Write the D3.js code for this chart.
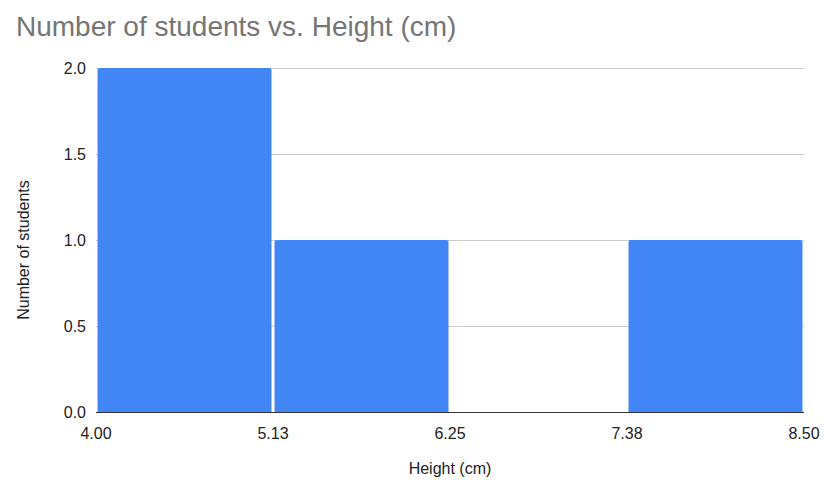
<!DOCTYPE html>
<html><head><meta charset="utf-8">
<script src="https://cdn.jsdelivr.net/npm/d3@7"></script>
<style>body{margin:0;background:#fff}svg{display:block;font-family:Arial,"Liberation Sans",sans-serif}</style>
</head><body>
<svg id="c" width="827" height="484"></svg>
<script>
const binStarts = [4.00, 5.125, 6.25, 7.375];
const binEnds = [5.125, 6.25, 7.375, 8.50];
const counts = [2, 1, 0, 1];
const xTicks = [4.00, 5.125, 6.25, 7.375, 8.50];
const xTickLabels = ["4.00", "5.13", "6.25", "7.38", "8.50"];
const yTicks = [0, 0.5, 1.0, 1.5, 2.0];

const svg = d3.select("#c");
const m = {l: 96, r: 804, t: 68, b: 412};
const x = d3.scaleLinear().domain([4.0, 8.5]).range([m.l, m.r]);
const y = d3.scaleLinear().domain([0, 2]).range([m.b, m.t]);

svg.append("text").attr("x", 16).attr("y", 36).attr("fill", "#757575")
  .attr("font-size", 28).text("Number of students vs. Height (cm)");

// gridlines
svg.append("g").selectAll("line").data(yTicks.filter(d => d > 0)).join("line")
  .attr("x1", m.l).attr("x2", m.r).attr("y1", d => Math.round(y(d)) + 0.5).attr("y2", d => Math.round(y(d)) + 0.5)
  .attr("stroke", "#cccccc").attr("stroke-width", 1);

// y labels
svg.append("g").selectAll("text").data(yTicks).join("text")
  .attr("x", 86).attr("y", d => y(d) + 6).attr("text-anchor", "end")
  .attr("font-size", 16).attr("fill", "#222").text(d => d.toFixed(1));

// bars
const data = counts.map((c, i) => ({s: binStarts[i], e: binEnds[i], c}));
svg.append("g").selectAll("path").data(data.filter(d => d.c > 0)).join("path")
  .attr("fill", "#4285F4")
  .attr("d", d => {
    const x0 = x(d.s) + 1.5, x1 = x(d.e) - 1.5, y0 = y(d.c), y1 = y(0), r = 2;
    return `M${x0},${y1}V${y0 + r}Q${x0},${y0} ${x0 + r},${y0}H${x1 - r}Q${x1},${y0} ${x1},${y0 + r}V${y1}Z`;
  });

// baseline
svg.append("line").attr("x1", m.l).attr("x2", m.r).attr("y1", m.b + 0.5).attr("y2", m.b + 0.5)
  .attr("stroke", "#333").attr("stroke-width", 1);

// x labels
svg.append("g").selectAll("text").data(xTicks).join("text")
  .attr("x", d => x(d)).attr("y", 439).attr("text-anchor", "middle")
  .attr("font-size", 16).attr("fill", "#222").text((d, i) => xTickLabels[i]);

svg.append("text").attr("x", 450).attr("y", 474).attr("text-anchor", "middle")
  .attr("font-size", 16).attr("fill", "#222").text("Height (cm)");

svg.append("text").attr("transform", "translate(29,250) rotate(-90)").attr("text-anchor", "middle")
  .attr("font-size", 16).attr("fill", "#222").text("Number of students");
</script>
</body></html>
